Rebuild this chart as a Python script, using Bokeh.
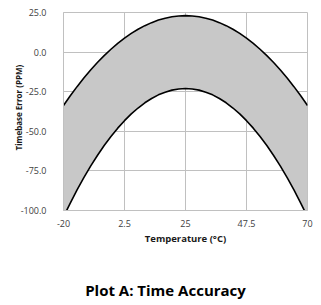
from bokeh.plotting import figure
from bokeh.layouts import column
from bokeh.models import FixedTicker, Range1d, Title, ColumnDataSource
from bokeh.core.properties import value
from bokeh.embed import file_html
from bokeh.resources import INLINE

# Data
temperature = [-20, -17.5, -15, -12.5, -10, -7.5, -5, -2.5, 0, 2.5, 5, 7.5, 10, 12.5, 15, 17.5, 20, 22.5,
               25, 27.5, 30, 32.5, 35, 37.5, 40, 42.5, 45, 47.5, 50, 52.5, 55, 57.5, 60, 62.5, 65, 67.5, 70]
upper_ppm = [-33.7, -27.6, -21.8, -16.4, -11.3, -6.6, -2.2, 1.8, 5.5, 8.8, 11.8, 14.4, 16.7, 18.6, 20.2, 21.4, 22.3, 22.8,
             23.0, 22.8, 22.3, 21.4, 20.2, 18.6, 16.7, 14.4, 11.8, 8.8, 5.5, 1.8, -2.2, -6.6, -11.3, -16.4, -21.8, -27.6, -33.7]
lower_ppm = [-104.0, -95.3, -87.0, -79.3, -72.0, -65.3, -59.0, -53.3, -48.0, -43.3, -39.0, -35.3, -32.0, -29.3, -27.0, -25.3, -24.0, -23.3,
             -23.0, -23.3, -24.0, -25.3, -27.0, -29.3, -32.0, -35.3, -39.0, -43.3, -48.0, -53.3, -59.0, -65.3, -72.0, -79.3, -87.0, -95.3, -104.0]

x_ticks = [-20, 2.5, 25, 47.5, 70]
x_tick_labels = ["-20", "2.5", "25", "47.5", "70"]
y_ticks = [-100, -75, -50, -25, 0, 25]
y_tick_labels = ["-100.0", "-75.0", "-50.0", "-25.0", "0.0", "25.0"]

title_text = "Plot A: Time Accuracy"
x_title = "Temperature (°C)"
y_title = "Timebase Error (PPM)"

FONT = "Open Sans"
GRID = "#c0c0c0"

src = ColumnDataSource(dict(t=temperature, up=upper_ppm, lo=lower_ppm))

p = figure(width=321, height=250, output_backend="svg", toolbar_location=None,
           x_range=Range1d(-20, 70), y_range=Range1d(-100, 25),
           min_border_left=63, min_border_right=14, min_border_top=12, min_border_bottom=40)

p.varea(x="t", y1="lo", y2="up", source=src, fill_color="#c8c8c8")
p.line(x="t", y="up", source=src, line_color="black", line_width=1.6)
p.line(x="t", y="lo", source=src, line_color="black", line_width=1.6)

p.outline_line_color = GRID
p.outline_line_width = 1
p.background_fill_color = "white"
p.border_fill_color = "white"

p.xaxis.ticker = FixedTicker(ticks=x_ticks)
p.yaxis.ticker = FixedTicker(ticks=y_ticks)
p.xaxis.major_label_overrides = {t: s for t, s in zip(x_ticks, x_tick_labels)}
p.yaxis.major_label_overrides = {t: s for t, s in zip(y_ticks, y_tick_labels)}

for ax in (p.xaxis, p.yaxis):
    ax.axis_line_color = GRID
    ax.major_tick_line_color = None
    ax.minor_tick_line_color = None
    ax.major_label_text_font = FONT
    ax.major_label_text_font_size = "9px"
    ax.major_label_text_color = "#404040"
    ax.axis_label_text_font = FONT
    ax.axis_label_text_font_size = "9.5px"
    ax.axis_label_text_font_style = "bold"
    ax.axis_label_text_color = "#1a1a1a"

p.xaxis.axis_label = x_title
p.xaxis.major_label_standoff = 3
p.xaxis.axis_label_standoff = 2
p.yaxis.major_label_standoff = 11

ytitle = Title(text=y_title, align="left", offset=60, standoff=-12,
               text_font=FONT, text_font_size="8px", text_font_style="bold", text_color="#1a1a1a")
p.add_layout(ytitle, "left")

p.grid.grid_line_color = GRID
p.grid.grid_line_width = 1

# Caption panel below the chart (its frame matches the chart's frame: pixels 63..307)
cap = figure(width=321, height=55, output_backend="svg", toolbar_location=None,
             x_range=Range1d(63, 307), y_range=Range1d(0, 55),
             min_border_left=63, min_border_right=14, min_border_top=0, min_border_bottom=0,
             x_axis_type=None, y_axis_type=None)
cap.grid.visible = False
cap.outline_line_color = None
cap.border_fill_color = "white"
cap.text(x=[165], y=[16], text=[title_text], text_align="center", text_baseline="middle",
         text_font=value(FONT), text_font_size="15px", text_font_style="bold", text_color="black")

layout = column(p, cap, spacing=0)
open("out.html", "w").write(file_html(layout, INLINE))
